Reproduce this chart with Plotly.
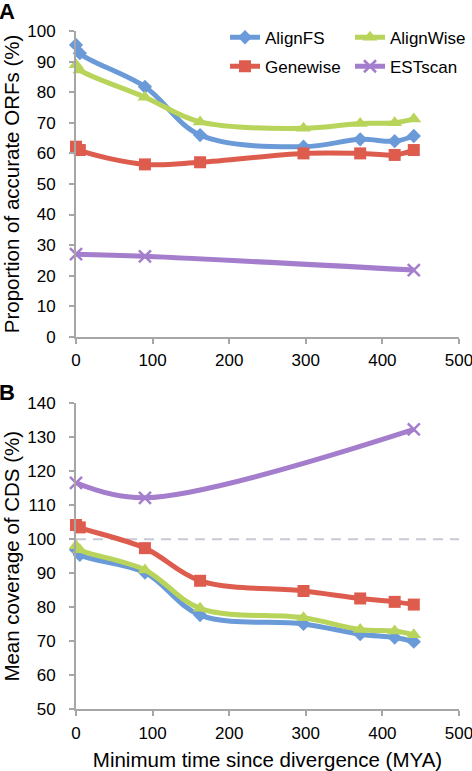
import plotly.graph_objects as go

# ---- data ----
time_x = [0, 5, 90, 162, 297, 371, 416, 441]
est_x = [0, 90, 441]

acc_alignfs = [95.5, 92.8, 81.8, 66.0, 62.2, 64.6, 64.0, 65.7]
acc_alignwise = [89.0, 87.3, 78.4, 70.3, 68.2, 69.8, 70.0, 71.3]
acc_genewise = [62.2, 61.1, 56.4, 57.1, 60.0, 60.0, 59.5, 61.1]
acc_estscan = [27.0, 26.3, 21.8]

cov_alignfs = [96.9, 95.4, 90.2, 77.7, 75.1, 72.1, 71.1, 69.9]
cov_alignwise = [98.1, 96.9, 91.0, 79.7, 76.9, 73.5, 73.0, 71.9]
cov_genewise = [104.2, 103.5, 97.4, 87.8, 84.8, 82.6, 81.6, 80.8]
cov_estscan = [116.6, 112.2, 132.3]

reference_line = 100
x_ticks = [0, 100, 200, 300, 400, 500]

series_names = ["AlignFS", "AlignWise", "Genewise", "ESTscan"]
colors = {"AlignFS": "#6A9BD8", "AlignWise": "#B8D45A",
          "Genewise": "#DD5C4E", "ESTscan": "#A47ECC"}
symbols = {"AlignFS": "diamond", "AlignWise": "triangle-up",
           "Genewise": "square", "ESTscan": "x-thin"}
sizes = {"AlignFS": 11, "AlignWise": 13, "Genewise": 12, "ESTscan": 12}
legend_of = {"AlignFS": "legend", "AlignWise": "legend2",
             "Genewise": "legend3", "ESTscan": "legend4"}

top = {"AlignFS": (time_x, acc_alignfs), "AlignWise": (time_x, acc_alignwise),
       "Genewise": (time_x, acc_genewise), "ESTscan": (est_x, acc_estscan)}
bottom = {"AlignFS": (time_x, cov_alignfs), "AlignWise": (time_x, cov_alignwise),
          "Genewise": (time_x, cov_genewise), "ESTscan": (est_x, cov_estscan)}

FONT = "Liberation Sans, Arial, Helvetica, sans-serif"
fig = go.Figure()


def marker_for(name):
    c = colors[name]
    if name == "ESTscan":
        return dict(symbol=symbols[name], size=sizes[name], color=c,
                    line=dict(color=c, width=2.5))
    return dict(symbol=symbols[name], size=sizes[name], color=c,
                line=dict(width=0))


for panel, data, xa, ya in [("top", top, "x", "y"), ("bottom", bottom, "x2", "y2")]:
    for name in series_names:
        xs, ys = data[name]
        fig.add_trace(go.Scatter(
            x=xs, y=ys, name=name, mode="lines+markers",
            line=dict(color=colors[name], width=5, shape="spline", smoothing=1.0),
            marker=marker_for(name), cliponaxis=False,
            xaxis=xa, yaxis=ya,
            showlegend=(panel == "top"), legend=legend_of[name],
        ))

# dashed 100% reference line in panel B
fig.add_shape(type="line", xref="x2", yref="y2", x0=0, x1=500,
              y0=reference_line, y1=reference_line, layer="below",
              line=dict(color="#C9C9D6", width=2, dash="10px,7px"))

axis_common = dict(showline=True, linecolor="#A6A6A6", linewidth=2,
                   ticks="outside", ticklen=5, tickwidth=1.5, tickcolor="#A6A6A6",
                   showgrid=False, zeroline=False, automargin=False,
                   ticklabeloverflow="allow",
                   tickfont=dict(family=FONT, size=17, color="black"))

H = 771
W_PLOT = 472 - 76 - 13


def px_x(p):
    return (p - 76) / W_PLOT


def px_y(p):
    return 1 - p / H


def legend_box(x_px, y_px):
    return dict(orientation="h", x=px_x(x_px), xanchor="left",
                y=px_y(y_px), yanchor="middle", itemwidth=30,
                font=dict(family=FONT, size=17), bgcolor="rgba(0,0,0,0)")


fig.update_layout(
    width=472, height=H,
    margin=dict(l=76, r=13, t=0, b=0),
    plot_bgcolor="white", paper_bgcolor="white",
    font=dict(family=FONT, color="black"),
    xaxis=dict(domain=[0, 1], range=[0, 500], tickvals=x_ticks, anchor="y",
               ticklabelstandoff=2, **axis_common),
    yaxis=dict(domain=[px_y(336.7), px_y(31.2)], range=[0, 100], dtick=10,
               anchor="x", ticklabelstandoff=10,
               title=dict(text="Proportion of accurate ORFs (%)", standoff=14,
                          font=dict(family=FONT, size=20.5)),
               **axis_common),
    xaxis2=dict(domain=[0, 1], range=[0, 500], tickvals=x_ticks, anchor="y2",
                ticklabelstandoff=2,
                title=dict(text="Minimum time since divergence (MYA)", standoff=12,
                           font=dict(family=FONT, size=20.5)),
                **axis_common),
    yaxis2=dict(domain=[px_y(709.3), px_y(403.3)], range=[50, 140], dtick=10,
                anchor="x2", ticklabelstandoff=10,
                title=dict(text="Mean coverage of CDS (%)", standoff=14,
                           font=dict(family=FONT, size=20.5)),
                **axis_common),
    legend=legend_box(225, 37.7),
    legend2=legend_box(350, 37.7),
    legend3=legend_box(225, 66.7),
    legend4=legend_box(350, 66.7),
    annotations=[
        dict(text="<b>A</b>", xref="paper", yref="paper",
             x=px_x(7), y=px_y(12), xanchor="center", yanchor="middle",
             showarrow=False, font=dict(family=FONT, size=22, color="black")),
        dict(text="<b>B</b>", xref="paper", yref="paper",
             x=px_x(7), y=px_y(392), xanchor="center", yanchor="middle",
             showarrow=False, font=dict(family=FONT, size=22, color="black")),
    ],
)

fig.write_html(
    "out.html",
    config={"displayModeBar": False},
    post_script="document.body.style.margin='0';document.body.style.overflow='hidden';",
)
